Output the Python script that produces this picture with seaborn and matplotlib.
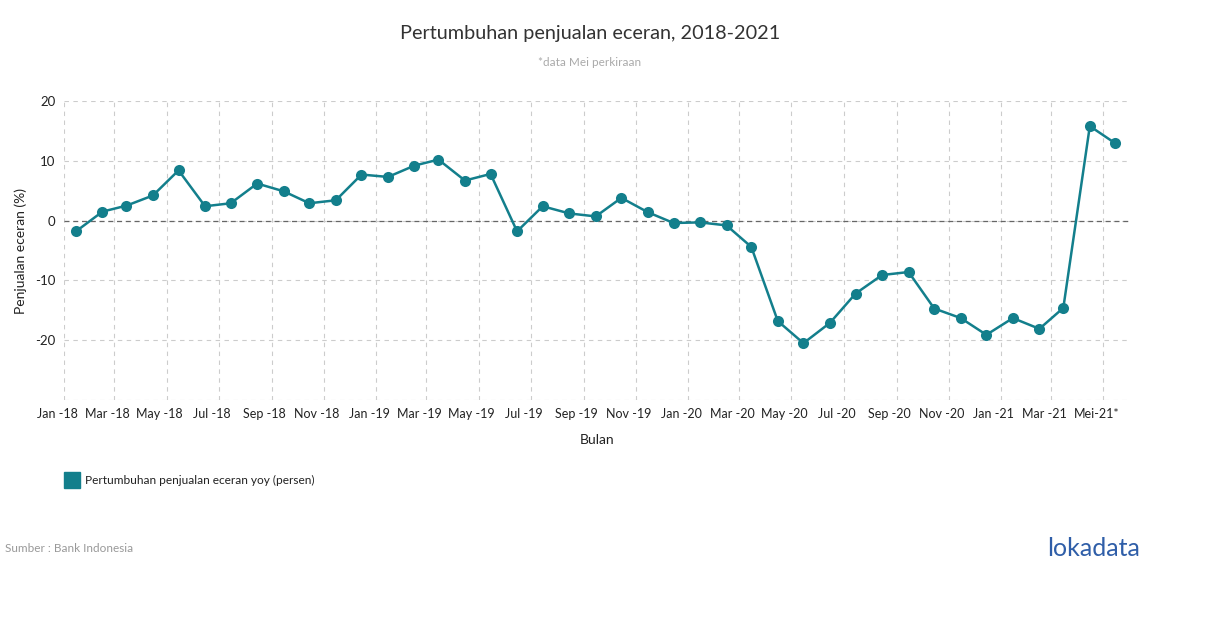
import pandas as pd
import matplotlib.pyplot as plt
import matplotlib.transforms as mtransforms
from matplotlib.patches import Rectangle
import seaborn as sns

# monthly retail sales growth yoy (%), Jan 2018 - May 2021 (May estimated)
months = pd.date_range('2018-01-01', '2021-05-01', freq='MS')
growth = [
    -1.8, 1.5, 2.5, 4.2, 8.4, 2.4, 2.9, 6.2, 4.9, 2.9, 3.4, 7.7,
    7.3, 9.2, 10.2, 6.7, 7.8, -1.8, 2.4, 1.2, 0.7, 3.8, 1.4, -0.4,
    -0.3, -0.8, -4.4, -16.8, -20.5, -17.1, -12.2, -9.1, -8.6, -14.7, -16.3, -19.1,
    -16.3, -18.1, -14.6, 15.8, 12.9,
]
tick_months = pd.date_range('2018-01-01', '2021-05-01', freq='2MS')
tick_labels = [d.strftime('%b -%y') for d in tick_months[:-1]] + ['Mei-21*']
y_ticks = [-20, -10, 0, 10, 20]

color = '#137f8c'

df = pd.DataFrame({'bulan': months + pd.Timedelta(days=14), 'growth': growth})

sns.set_style('white')
plt.rcParams['font.family'] = ['Lato', 'DejaVu Sans']

fig = plt.figure(figsize=(12.1, 6.28), dpi=100)
ax = fig.add_axes([64 / 1210, 1 - 400 / 628, (1130 - 64) / 1210, 299 / 628])

sns.lineplot(data=df, x='bulan', y='growth', ax=ax, color=color, linewidth=1.8,
             marker='o', markersize=8, markeredgewidth=0)

ax.set_xlim(pd.Timestamp('2018-01-01'), pd.Timestamp('2021-06-01'))
ax.set_ylim(-30, 20)
ax.set_xticks(tick_months)
ax.set_xticklabels(tick_labels, fontsize=9, color='#222222')
ax.set_yticks(y_ticks)
ax.set_yticklabels([str(v) for v in y_ticks], fontsize=9.5, color='#222222')
ax.tick_params(length=0, pad=6)

# x labels sit a little left of their gridline in the original
shift = mtransforms.ScaledTranslation(-7 / 100, 0, fig.dpi_scale_trans)
for lab in ax.get_xticklabels():
    lab.set_transform(lab.get_transform() + shift)

ax.grid(True, linestyle=(0, (4, 4)), color='#cccccc', linewidth=0.8)
ax.axhline(0, color='#666666', linestyle=(0, (4, 3)), linewidth=0.9, zorder=1)
ax.axhline(-30, color='#cccccc', linestyle=(0, (4, 4)), linewidth=0.8, zorder=1)
sns.despine(ax=ax, left=True, bottom=True)

ax.set_xlabel('Bulan', fontsize=10, color='#222222')
ax.set_ylabel('Penjualan eceran (%)', fontsize=10, color='#222222')
ax.xaxis.set_label_coords(0.5, -(434 - 400) / 299)
ax.yaxis.set_label_coords(-(64 - 27) / 1066, 0.5)

fig.text(590 / 1210, 1 - 33 / 628, 'Pertumbuhan penjualan eceran, 2018-2021',
         ha='center', va='center', fontsize=14.3, color='#333333')
fig.text(590 / 1210, 1 - 62 / 628, '*data Mei perkiraan',
         ha='center', va='center', fontsize=8.5, color='#aaaaaa')

# legend
fig.patches.append(Rectangle((64 / 1210, 1 - 488 / 628), 16 / 1210, 16 / 628,
                             transform=fig.transFigure, color=color))
fig.text(85 / 1210, 1 - 480 / 628, 'Pertumbuhan penjualan eceran yoy (persen)',
         ha='left', va='center', fontsize=8.6, color='#222222')

fig.text(5 / 1210, 1 - 548 / 628, 'Sumber : Bank Indonesia',
         ha='left', va='center', fontsize=8.5, color='#999999')
fig.text(1140 / 1210, 1 - 549 / 628, 'lokadata',
         ha='right', va='center', fontsize=18, color='#2f5ea8')

fig.savefig('out.png', dpi=100)
